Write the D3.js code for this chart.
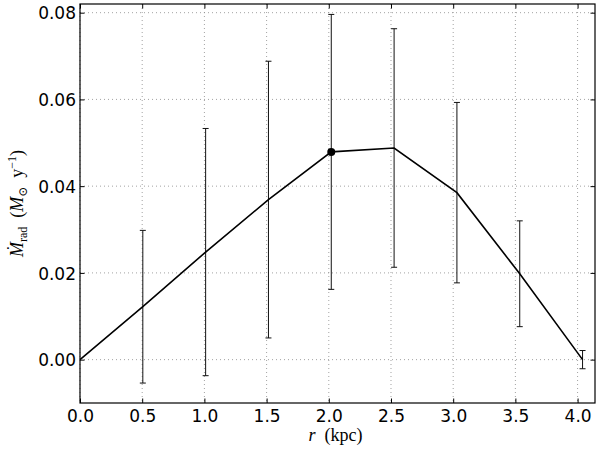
<!DOCTYPE html>
<html>
<head>
<meta charset="utf-8">
<script src="https://cdn.jsdelivr.net/npm/d3@7"></script>
<style>
  body { margin: 0; background: #fff; }
  svg { display: block; }
  .tick text { font-family: "DejaVu Sans", sans-serif; font-size: 17px; fill: #000; }
  .grid line { stroke: #8a8a8a; stroke-width: 0.8; stroke-dasharray: 1,3; }
</style>
</head>
<body>
<svg width="600" height="450"></svg>
<script>
// radius (kpc), outflow rate and its error
let rVals = [0, 0.505, 1.01, 1.515, 2.02, 2.525, 3.03, 3.535, 4.04];
let mdotVals = [0, 0.0122, 0.0248, 0.0369, 0.0479, 0.0488, 0.0385, 0.0198, 0.0000];
let mdotErr = [0, 0.0176, 0.0285, 0.0319, 0.0317, 0.0275, 0.0208, 0.0122, 0.0021];
// the one point drawn with a dot
let markR = [2.02];
let markM = [0.0479];

let xTicks = [0, 0.5, 1.0, 1.5, 2.0, 2.5, 3.0, 3.5, 4.0];
let yTicks = [0, 0.02, 0.04, 0.06, 0.08];
let xDomain = [0, 4.14];
let yDomain = [-0.01, 0.082];

let svg = d3.select('svg');
let pLeft = 80, pRight = 595, pTop = 4, pBottom = 403;

let x = d3.scaleLinear().domain(xDomain).range([pLeft, pRight]);
let y = d3.scaleLinear().domain(yDomain).range([pBottom, pTop]);

// grid
let grid = svg.append('g').attr('class', 'grid');
grid.selectAll('.gx').data(xTicks).enter().append('line')
  .attr('x1', d => x(d)).attr('x2', d => x(d))
  .attr('y1', pTop).attr('y2', pBottom);
grid.selectAll('.gy').data(yTicks).enter().append('line')
  .attr('x1', pLeft).attr('x2', pRight)
  .attr('y1', d => y(d)).attr('y2', d => y(d));

// error bars
let pts = rVals.map((r, i) => ({ r: r, m: mdotVals[i], e: mdotErr[i] })).filter(d => d.e > 0);
let eb = svg.append('g').attr('stroke', '#111').attr('stroke-width', 1);
eb.selectAll('.bar').data(pts).enter().append('line')
  .attr('x1', d => x(d.r)).attr('x2', d => x(d.r))
  .attr('y1', d => y(d.m - d.e)).attr('y2', d => y(d.m + d.e));
eb.selectAll('.capTop').data(pts).enter().append('line')
  .attr('x1', d => x(d.r) - 3).attr('x2', d => x(d.r) + 3)
  .attr('y1', d => y(d.m + d.e)).attr('y2', d => y(d.m + d.e));
eb.selectAll('.capBot').data(pts).enter().append('line')
  .attr('x1', d => x(d.r) - 3).attr('x2', d => x(d.r) + 3)
  .attr('y1', d => y(d.m - d.e)).attr('y2', d => y(d.m - d.e));

// line
let line = d3.line().x((d, i) => x(rVals[i])).y(d => y(d));
svg.append('path').datum(mdotVals)
  .attr('d', line)
  .attr('fill', 'none')
  .attr('stroke', '#000')
  .attr('stroke-width', 1.6);

svg.selectAll('.mark').data(markR).enter().append('circle')
  .attr('cx', d => x(d)).attr('cy', (d, i) => y(markM[i]))
  .attr('r', 4).attr('fill', '#000');

// axes with inward ticks on all sides
let xb = svg.append('g').attr('transform', `translate(0,${pBottom})`)
  .call(d3.axisBottom(x).tickValues(xTicks).tickFormat(d3.format('.1f')).tickSizeInner(-4.5).tickSizeOuter(0));
xb.selectAll('text').attr('y', 19).attr('dy', 0);
let xt = svg.append('g').attr('transform', `translate(0,${pTop})`)
  .call(d3.axisTop(x).tickValues(xTicks).tickSizeInner(-4.5).tickSizeOuter(0).tickFormat(''));
let yl = svg.append('g').attr('transform', `translate(${pLeft},0)`)
  .call(d3.axisLeft(y).tickValues(yTicks).tickFormat(d3.format('.2f')).tickSizeInner(-4.5).tickSizeOuter(0));
yl.selectAll('text').attr('x', -4).attr('dy', '0.36em');
let yr = svg.append('g').attr('transform', `translate(${pRight},0)`)
  .call(d3.axisRight(y).tickValues(yTicks).tickSizeInner(-4.5).tickSizeOuter(0).tickFormat(''));
svg.selectAll('.domain').remove();
svg.selectAll('.tick line').attr('stroke', '#000').attr('stroke-width', 1);

svg.append('rect')
  .attr('x', pLeft).attr('y', pTop)
  .attr('width', pRight - pLeft).attr('height', pBottom - pTop)
  .attr('fill', 'none').attr('stroke', '#000').attr('stroke-width', 1.2);

// axis labels
let serif = '"Liberation Serif", "DejaVu Serif", serif';
let xlab = svg.append('text')
  .attr('x', (pLeft + pRight) / 2 - 2).attr('y', 441)
  .attr('text-anchor', 'middle')
  .attr('font-family', serif).attr('font-size', 18);
xlab.append('tspan').attr('font-style', 'italic').text('r');
xlab.append('tspan').text('\u2002(kpc)');

let ylab = svg.append('text')
  .attr('transform', `translate(23,${(pTop + pBottom) / 2}) rotate(-90)`)
  .attr('text-anchor', 'middle')
  .attr('font-family', serif).attr('font-size', 18);
ylab.append('tspan').attr('font-style', 'italic').text('\u1E40');
ylab.append('tspan').attr('font-size', 12).attr('dy', 4).text('rad');
ylab.append('tspan').attr('dy', -4).text('\u2002(');
ylab.append('tspan').attr('font-style', 'italic').text('M');
ylab.append('tspan').attr('font-size', 12).attr('dy', 4).text('\u2299');
ylab.append('tspan').attr('dy', -4).text('\u2002y');
ylab.append('tspan').attr('font-size', 12).attr('dy', -7).text('\u22121');
ylab.append('tspan').attr('dy', 7).text(')');
</script>
</body>
</html>
